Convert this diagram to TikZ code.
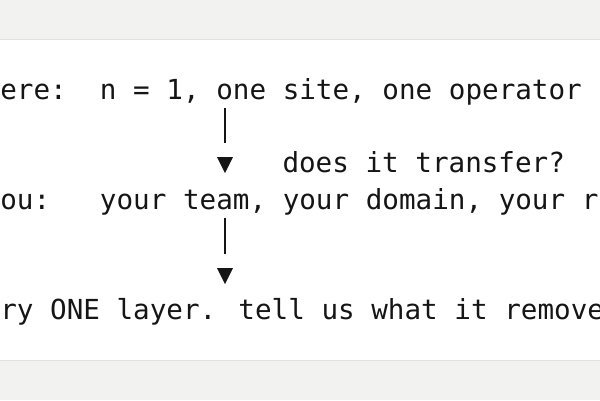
\documentclass[tikz,border=0pt]{standalone}
\usepackage{fontspec}
\newfontfamily\codefont{DejaVu Sans Mono}
\definecolor{pagegray}{HTML}{F2F2F1}
\definecolor{rulegray}{HTML}{E2E2E0}
\definecolor{ink}{HTML}{151515}
\begin{document}
\begin{tikzpicture}[x=1pt,y=-1pt,
  codeline/.style={anchor=base west, inner sep=0pt, text=ink,
    font=\codefont\fontsize{27.6}{36}\selectfont},
  stem/.style={draw=ink, line width=1.8pt},
  tip/.style={fill=ink}]
\useasboundingbox (0,0) rectangle (600,400);
\fill[pagegray] (0,0) rectangle (600,400);
\fill[white] (0,39.5) rectangle (600,360);
\draw[rulegray, line width=1pt] (0,39.5) -- (600,39.5);
\draw[rulegray, line width=1pt] (0,360) -- (600,360);
\begin{scope}
  \clip (0,40) rectangle (600,359.5);
  \node[codeline] (l1) at (0.1,99) {ere:~~n = 1, one site, one operator};
  \node[codeline] (q)  at (282.3,172) {does it transfer?};
  \node[codeline] (l2) at (0.1,209) {ou:~~~your team, your domain, your r};
  \node[codeline] (l3) at (0.1,319) {ry ONE layer. tell us what it remove};
  % first connector
  \coordinate (a1top) at (225,108);
  \coordinate (a1bot) at (225,143);
  \coordinate (t1) at (225,173);
  \draw[stem] (a1top) -- (a1bot);
  \fill[tip] (217,157) -- (233,157) -- (t1) -- cycle;
  % second connector
  \coordinate (a2top) at (225,218);
  \coordinate (a2bot) at (225,254);
  \coordinate (t2) at (225,284);
  \draw[stem] (a2top) -- (a2bot);
  \fill[tip] (217,268) -- (233,268) -- (t2) -- cycle;
\end{scope}
\end{tikzpicture}
\end{document}
